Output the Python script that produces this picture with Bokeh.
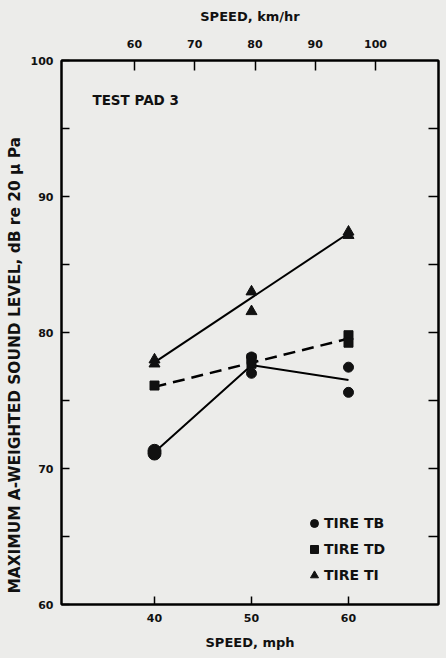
from bokeh.plotting import figure
from bokeh.models import Range1d, LinearAxis, FixedTicker, Label, Legend, LegendItem, Title
from bokeh.embed import file_html
from bokeh.resources import INLINE

# ---------------- data ----------------
mph_ticks = [40, 50, 60]
kmh_ticks = [60, 70, 80, 90, 100]
db_ticks = [60, 70, 80, 90, 100]
db_minor = [65, 75, 85, 95]
db_right = [65, 70, 75, 80, 85, 90, 95]

# Tire TB (circles)
tb_speed = [40, 40, 50, 50, 60, 60]
tb_level = [71.1, 71.3, 78.2, 77.0, 77.45, 75.6]
tb_fit_speed = [40, 50, 60]
tb_fit_level = [71.2, 77.6, 76.5]

# Tire TD (squares)
td_speed = [40, 50, 50, 60, 60]
td_level = [76.1, 78.1, 77.7, 79.8, 79.25]
td_fit_speed = [40, 60]
td_fit_level = [76.0, 79.55]

# Tire TI (triangles)
ti_speed = [40, 40, 50, 50, 60, 60]
ti_level = [78.0, 77.7, 83.0, 81.55, 87.4, 87.15]
ti_fit_speed = [40, 60]
ti_fit_level = [77.8, 87.3]

series_labels = ["TIRE TB", "TIRE TD", "TIRE TI"]
y_label = "MAXIMUM A-WEIGHTED SOUND LEVEL, dB re 20 \u03bc Pa"

# ---------------- style ----------------
BG = "#ececea"
FONT = "DejaVu Sans"
tb_sizes = [13, 13, 10, 10, 10, 10]

p = figure(frame_width=377, frame_height=544,
           x_range=Range1d(30.41, 69.28), y_range=Range1d(60, 100),
           output_backend="svg", toolbar_location=None,
           x_axis_location=None, y_axis_location=None,
           min_border_left=61, min_border_right=8,
           min_border_top=60, min_border_bottom=50,
           background_fill_color=BG, border_fill_color=BG)
p.extra_x_ranges = {"kmh": Range1d(47.88, 110.46)}
p.outline_line_color = "black"
p.outline_line_width = 2
p.xgrid.visible = False
p.ygrid.visible = False


def style_axis(ax, tick_len=8):
    ax.axis_line_color = "black"
    ax.axis_line_width = 2
    ax.major_tick_in = tick_len
    ax.major_tick_out = 0
    ax.minor_tick_in = tick_len
    ax.minor_tick_out = 0
    ax.major_tick_line_width = 1.5
    ax.minor_tick_line_width = 1.5
    ax.major_tick_line_color = "black"
    ax.minor_tick_line_color = "black"
    ax.major_label_text_font = FONT
    ax.major_label_text_font_style = "bold"
    ax.major_label_text_font_size = "11px"
    ax.major_label_text_color = "#111111"
    ax.axis_label_text_font = FONT
    ax.axis_label_text_font_style = "bold"
    ax.axis_label_text_font_size = "13px"
    ax.axis_label_text_color = "#111111"


bottom = LinearAxis(ticker=FixedTicker(ticks=mph_ticks), axis_label="SPEED, mph")
style_axis(bottom, 8)
bottom.major_label_standoff = 9
bottom.axis_label_standoff = 10
p.add_layout(bottom, "below")

top = LinearAxis(x_range_name="kmh", ticker=FixedTicker(ticks=kmh_ticks),
                 axis_label="SPEED, km/hr")
style_axis(top, 10)
top.major_label_standoff = 13
top.axis_label_standoff = 13
p.add_layout(top, "above")

left = LinearAxis(ticker=FixedTicker(ticks=db_ticks, minor_ticks=db_minor))
style_axis(left, 8)
left.major_label_standoff = 8
p.add_layout(left, "left")

right = LinearAxis(ticker=FixedTicker(ticks=db_right),
                   major_label_overrides={t: "" for t in db_right})
style_axis(right, 10)
right.major_label_standoff = 0
right.major_label_text_font_size = "1px"
p.add_layout(right, "right")

# y-axis title placed in the left panel (offset down like the reference)
ytitle = Title(text=y_label, align="left", offset=11, standoff=7,
               text_font=FONT, text_font_style="bold", text_font_size="15.4px",
               text_color="#111111")
p.add_layout(ytitle, "left")

# fit lines
p.line(tb_fit_speed, tb_fit_level, line_color="black", line_width=2)
p.line(td_fit_speed, td_fit_level, line_color="black", line_width=2.5, line_dash="12 7")
p.line(ti_fit_speed, ti_fit_level, line_color="black", line_width=2)

# points
r_tb = p.scatter(tb_speed, tb_level, marker="circle", size=tb_sizes,
                 fill_color="#111111", line_color="#111111")
r_td = p.scatter(td_speed, td_level, marker="square", size=9,
                 fill_color="#111111", line_color="#111111")
r_ti = p.scatter(ti_speed, ti_level, marker="triangle", size=11,
                 fill_color="#111111", line_color="#111111")

# legend
legend = Legend(items=[LegendItem(label=series_labels[0], renderers=[r_tb]),
                       LegendItem(label=series_labels[1], renderers=[r_td]),
                       LegendItem(label=series_labels[2], renderers=[r_ti])],
                location=(243, 17), glyph_width=20, glyph_height=24,
                label_standoff=0, spacing=2, padding=0, margin=0,
                border_line_color=None, background_fill_alpha=0,
                label_text_font=FONT, label_text_font_style="bold",
                label_text_font_size="14px", label_text_color="#111111")
p.add_layout(legend, "center")

# annotation
p.add_layout(Label(x=33.6, y=97.1, text="TEST PAD 3", text_font=FONT,
                   text_font_style="bold", text_font_size="13.5px",
                   text_baseline="middle", text_color="#111111"))

html = file_html(p, INLINE)
html = html.replace("<head>", "<head><style>body{background:%s;}</style>" % BG, 1)
open("out.html", "w").write(html)
